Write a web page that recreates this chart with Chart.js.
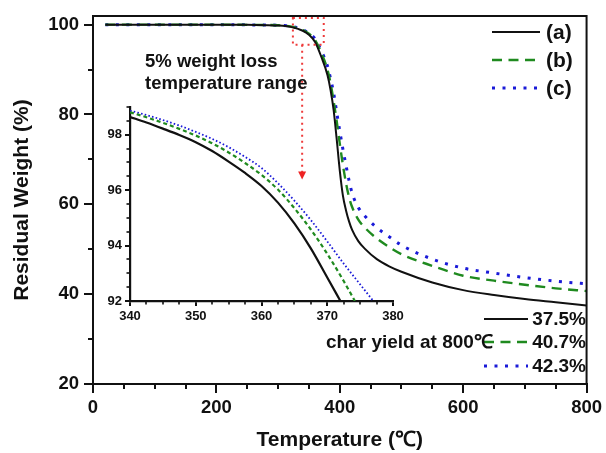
<!DOCTYPE html>
<html>
<head>
<meta charset="utf-8">
<script src="https://cdn.jsdelivr.net/npm/chart.js@4.4.0/dist/chart.umd.min.js"></script>
<style>
  html, body { margin: 0; padding: 0; background: #fff; }
  #wrap { position: relative; width: 606px; height: 453px; }
  #main { position: absolute; left: 0; top: 0; }
  #inset { position: absolute; left: 80px; top: 95px; }
</style>
</head>
<body>
<div id="wrap">
  <canvas id="main" width="606" height="453"></canvas>
  <canvas id="inset" width="330" height="232"></canvas>
</div>
<script>
// ---------- DATA ----------
const temps = [20, 100, 200, 250, 300, 320, 340, 350, 360, 370, 380, 385, 390, 395, 400, 405, 410, 415, 420, 430, 440, 460, 480, 500, 550, 600, 650, 700, 750, 800];
const seriesA = [100, 100, 100, 99.95, 99.8, 99.5, 98.64, 97.73, 96.15, 92.85, 88.8, 85.5, 81, 74.5, 67.5, 62, 58.7, 56.2, 54.3, 51.8, 50.2, 47.8, 46.2, 45, 42.6, 40.9, 39.8, 38.9, 38.2, 37.5];
const seriesB = [100, 100, 100, 99.95, 99.85, 99.6, 98.81, 97.97, 96.55, 93.7, 90, 87, 83, 78.5, 73.5, 68.8, 64.8, 61.6, 59.4, 56.6, 54.9, 52.4, 50.5, 48.9, 46.3, 44.1, 43, 42.1, 41.3, 40.7];
const seriesC = [100, 100, 100, 99.95, 99.87, 99.65, 98.87, 98.1, 96.8, 94.15, 90.8, 88, 84.8, 80.5, 76.3, 72.3, 68.7, 65.3, 62.5, 59.3, 57.5, 54.8, 52.8, 50.9, 47.8, 45.8, 44.7, 43.7, 42.9, 42.3];

const insetTA = [340, 342.5, 345, 347.5, 350, 352.5, 355, 357.5, 360, 362.5, 365, 367.5, 370, 372];
const insetA  = [98.64, 98.44, 98.22, 97.99, 97.73, 97.41, 97.03, 96.62, 96.15, 95.55, 94.8, 93.9, 92.85, 92.0];
const insetTB = [340, 342.5, 345, 347.5, 350, 352.5, 355, 357.5, 360, 362.5, 365, 367.5, 370, 372.5, 374.2];
const insetB  = [98.81, 98.63, 98.43, 98.21, 97.97, 97.69, 97.36, 96.98, 96.55, 96.02, 95.35, 94.58, 93.7, 92.72, 92.0];
const insetTC = [340, 342.5, 345, 347.5, 350, 352.5, 355, 357.5, 360, 362.5, 365, 367.5, 370, 372.5, 375, 377];
const insetC  = [98.87, 98.71, 98.53, 98.33, 98.1, 97.85, 97.55, 97.2, 96.8, 96.25, 95.62, 94.92, 94.15, 93.35, 92.6, 92.0];

const xTicksMain = [0, 200, 400, 600, 800];
const xMinorMain = [50, 100, 150, 250, 300, 350, 450, 500, 550, 650, 700, 750];
const yTicksMain = [20, 40, 60, 80, 100];
const yMinorMain = [30, 50, 70, 90];
const xTicksInset = [340, 350, 360, 370, 380];
const yTicksInset = [92, 94, 96, 98];

const legendNames = ['(a)', '(b)', '(c)'];
const charYield = ['37.5%', '40.7%', '42.3%'];
const charLabel = 'char yield at 800\u2103';
const noteLines = ['5% weight loss', 'temperature range'];

// ---------- STYLE ----------
const FONT = '"Liberation Sans", Arial, sans-serif';
const COLORS = ['#111111', '#1f8a1f', '#1a1ad8'];
const DASH_MAIN = [[], [10, 6.5], [3, 7.5]];
const WIDTH_MAIN = [2, 2.4, 3];
const DASH_INSET = [[], [4, 3], [1.6, 2.2]];
const WIDTH_INSET = [2.2, 2.2, 1.8];

function pts(xs, ys) { return xs.map((x, i) => ({ x: x, y: ys[i] })); }

function mkDs(data, i, dash, width) {
  return {
    data: data,
    borderColor: COLORS[i],
    borderWidth: width[i],
    borderDash: dash[i],
    pointRadius: 0,
    fill: false,
    cubicInterpolationMode: 'monotone',
    borderCapStyle: 'butt'
  };
}

function drawLineSample(ctx, x1, x2, y, i) {
  ctx.save();
  ctx.strokeStyle = COLORS[i];
  ctx.lineWidth = WIDTH_MAIN[i];
  ctx.setLineDash(DASH_MAIN[i]);
  ctx.lineCap = 'butt';
  ctx.beginPath(); ctx.moveTo(x1, y); ctx.lineTo(x2, y); ctx.stroke();
  ctx.restore();
}

const mainDecor = {
  id: 'mainDecor',
  afterDraw(chart) {
    const ctx = chart.ctx, a = chart.chartArea;
    const xs = chart.scales.x, ys = chart.scales.y;
    ctx.save();
    // frame top/right
    ctx.strokeStyle = '#111'; ctx.lineWidth = 2;
    ctx.beginPath();
    ctx.moveTo(a.left, a.top); ctx.lineTo(a.right, a.top); ctx.lineTo(a.right, a.bottom);
    ctx.stroke();
    // minor ticks
    ctx.lineWidth = 2;
    xMinorMain.forEach(v => {
      const px = Math.round(xs.getPixelForValue(v));
      ctx.beginPath(); ctx.moveTo(px, a.bottom); ctx.lineTo(px, a.bottom + 5); ctx.stroke();
    });
    yMinorMain.forEach(v => {
      const py = Math.round(ys.getPixelForValue(v));
      ctx.beginPath(); ctx.moveTo(a.left, py); ctx.lineTo(a.left - 5, py); ctx.stroke();
    });
    // red dotted box + arrow
    ctx.strokeStyle = '#ee3b3b'; ctx.fillStyle = '#ee2222';
    ctx.lineWidth = 2; ctx.setLineDash([2, 4]);
    const bx1 = xs.getPixelForValue(324), bx2 = xs.getPixelForValue(374);
    const by1 = ys.getPixelForValue(101.5), by2 = ys.getPixelForValue(95.5);
    ctx.strokeRect(bx1, by1, bx2 - bx1, by2 - by1);
    const ax = xs.getPixelForValue(339), ayEnd = ys.getPixelForValue(65.5);
    ctx.beginPath(); ctx.moveTo(ax, by2); ctx.lineTo(ax, ayEnd - 7); ctx.stroke();
    ctx.setLineDash([]);
    ctx.beginPath(); ctx.moveTo(ax - 4, ayEnd - 8); ctx.lineTo(ax + 4, ayEnd - 8); ctx.lineTo(ax, ayEnd); ctx.closePath(); ctx.fill();
    // note text
    ctx.fillStyle = '#111';
    ctx.font = 'bold 18.5px ' + FONT;
    ctx.textAlign = 'left'; ctx.textBaseline = 'middle';
    ctx.fillText(noteLines[0], 145, 62);
    ctx.fillText(noteLines[1], 145, 84);
    // top-right legend
    ctx.font = 'bold 21px ' + FONT;
    const ly = [32, 60, 88];
    legendNames.forEach((n, i) => {
      drawLineSample(ctx, 492, 540, ly[i], i);
      ctx.fillStyle = '#111';
      ctx.fillText(n, 546, ly[i] + 1);
    });
    // char yield block
    ctx.font = 'bold 19px ' + FONT;
    const cy = [319, 342, 366];
    charYield.forEach((t, i) => {
      drawLineSample(ctx, 484, 528, cy[i], i);
      ctx.fillStyle = '#111';
      ctx.textAlign = 'right';
      ctx.fillText(t, 586, cy[i] + 1);
    });
    ctx.textAlign = 'left';
    ctx.fillText(charLabel, 326, 343);
    ctx.restore();
  }
};

const insetDecor = {
  id: 'insetDecor',
  afterDraw(chart) {
    const ctx = chart.ctx, a = chart.chartArea;
    const xs = chart.scales.x, ys = chart.scales.y;
    ctx.save();
    ctx.strokeStyle = '#111'; ctx.lineWidth = 1.6;
    for (let v = 340; v <= 380; v += 2.5) {
      if (v % 10 === 0) continue;
      const px = Math.round(xs.getPixelForValue(v));
      ctx.beginPath(); ctx.moveTo(px, a.bottom); ctx.lineTo(px, a.bottom + 3.5); ctx.stroke();
    }
    for (let v = 92; v <= 99; v += 0.5) {
      if (v % 2 === 0) continue;
      const py = Math.round(ys.getPixelForValue(v));
      ctx.beginPath(); ctx.moveTo(a.left, py); ctx.lineTo(a.left - 3.5, py); ctx.stroke();
    }
    ctx.restore();
  }
};

Chart.defaults.font.family = FONT;
Chart.defaults.color = '#111';

new Chart(document.getElementById('main'), {
  type: 'line',
  data: {
    datasets: [
      mkDs(pts(temps, seriesA), 0, DASH_MAIN, WIDTH_MAIN),
      mkDs(pts(temps, seriesB), 1, DASH_MAIN, WIDTH_MAIN),
      mkDs(pts(temps, seriesC), 2, DASH_MAIN, WIDTH_MAIN)
    ]
  },
  options: {
    responsive: false, animation: false, devicePixelRatio: 1,
    layout: { padding: { left: 8, right: 17, top: 14, bottom: 0 } },
    plugins: { legend: { display: false }, tooltip: { enabled: false } },
    scales: {
      x: {
        type: 'linear', min: 0, max: 800,
        afterBuildTicks: s => { s.ticks = xTicksMain.map(v => ({ value: v })); },
        afterFit: s => { s.height = 69; },
        grid: { drawOnChartArea: false, drawTicks: true, tickLength: 9, color: '#111', lineWidth: 2 },
        border: { display: true, color: '#111', width: 2 },
        ticks: { font: { size: 18.5, weight: 'bold' }, padding: 4, maxRotation: 0, color: '#111' },
        title: { display: true, text: 'Temperature (\u2103)', font: { size: 21, weight: 'bold' }, padding: { top: 0, bottom: 0 }, color: '#111' }
      },
      y: {
        type: 'linear', min: 20, max: 101.9,
        afterBuildTicks: s => { s.ticks = yTicksMain.map(v => ({ value: v })); },
        afterFit: s => { s.width = 85; },
        grid: { drawOnChartArea: false, drawTicks: true, tickLength: 9, color: '#111', lineWidth: 2 },
        border: { display: true, color: '#111', width: 2 },
        ticks: { font: { size: 18.5, weight: 'bold' }, padding: 5, color: '#111' },
        title: { display: true, text: 'Residual Weight (%)', font: { size: 21, weight: 'bold' }, padding: { top: 2, bottom: 0 }, color: '#111' }
      }
    }
  },
  plugins: [mainDecor]
});

new Chart(document.getElementById('inset'), {
  type: 'line',
  data: {
    datasets: [
      mkDs(pts(insetTA, insetA), 0, DASH_INSET, WIDTH_INSET),
      mkDs(pts(insetTB, insetB), 1, DASH_INSET, WIDTH_INSET),
      mkDs(pts(insetTC, insetC), 2, DASH_INSET, WIDTH_INSET)
    ]
  },
  options: {
    responsive: false, animation: false, devicePixelRatio: 1,
    layout: { padding: { left: 0, right: 17, top: 12, bottom: 0 } },
    plugins: { legend: { display: false }, tooltip: { enabled: false } },
    scales: {
      x: {
        type: 'linear', min: 340, max: 380,
        afterBuildTicks: s => { s.ticks = xTicksInset.map(v => ({ value: v })); },
        afterFit: s => { s.height = 26; },
        grid: { drawOnChartArea: false, drawTicks: true, tickLength: 5, color: '#111', lineWidth: 2 },
        border: { display: true, color: '#111', width: 2.2 },
        ticks: { font: { size: 13, weight: 'bold' }, padding: 3, maxRotation: 0, color: '#111' }
      },
      y: {
        type: 'linear', min: 92, max: 99,
        afterBuildTicks: s => { s.ticks = yTicksInset.map(v => ({ value: v })); },
        afterFit: s => { s.width = 50; },
        grid: { drawOnChartArea: false, drawTicks: true, tickLength: 5, color: '#111', lineWidth: 2 },
        border: { display: true, color: '#111', width: 2.2 },
        ticks: { font: { size: 13, weight: 'bold' }, padding: 3, color: '#111' }
      }
    }
  },
  plugins: [insetDecor]
});
</script>
</body>
</html>
